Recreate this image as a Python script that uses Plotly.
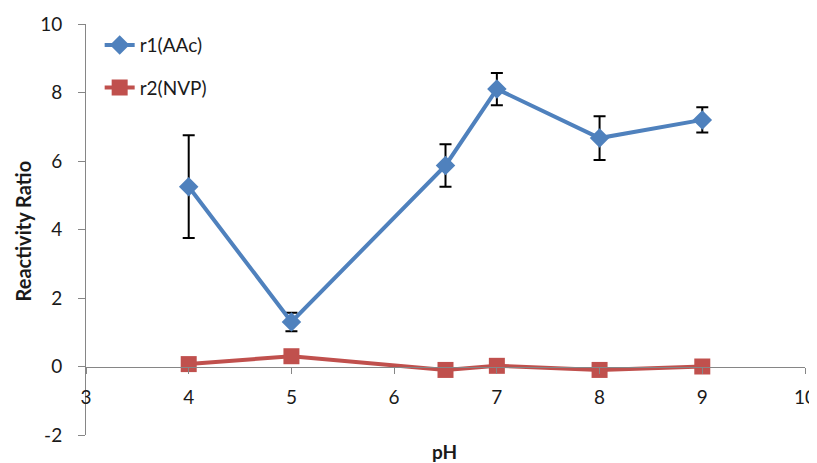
import plotly.graph_objects as go

ph = [4, 5, 6.5, 7, 8, 9]
r1 = [5.25, 1.3, 5.87, 8.1, 6.67, 7.2]
r1_err = [1.5, 0.27, 0.62, 0.47, 0.64, 0.37]
r2 = [0.07, 0.3, -0.1, 0.02, -0.1, 0.0]

x_ticks = [3, 4, 5, 6, 7, 8, 9, 10]
y_ticks = [-2, 0, 2, 4, 6, 8, 10]

FONT = "Lato"
AXIS_COLOR = "#868686"
TXT = "#1a1a1a"

fig = go.Figure()
fig.add_trace(go.Scatter(
    x=ph, y=r1, name="r1(AAc)", mode="lines+markers",
    line=dict(color="#4F81BD", width=4),
    marker=dict(symbol="diamond", size=15, color="#4F81BD"),
    error_y=dict(type="data", array=r1_err, visible=True, color="black", thickness=2, width=6),
    legendgroup="a",
))
fig.add_trace(go.Scatter(
    x=ph, y=r2, name="r2(NVP)", mode="lines+markers",
    line=dict(color="#C0504D", width=4),
    marker=dict(symbol="square", size=16, color="#C0504D"),
    legendgroup="b",
))

# page body has an 8px margin: compensate so the plot lands where the reference has it
fig.update_layout(
    width=809, height=455,
    margin=dict(l=78, r=12, t=16, b=28),
    plot_bgcolor="white", paper_bgcolor="white",
    font=dict(family=FONT, size=19, color=TXT),
    showlegend=True,
    legend=dict(x=0.019, y=0.995, xanchor="left", yanchor="top",
                traceorder="grouped", tracegroupgap=15,
                font=dict(family=FONT, size=19, color=TXT),
                bgcolor="rgba(0,0,0,0)"),
    xaxis=dict(range=[3, 10], tickvals=x_ticks, ticktext=[str(v) for v in x_ticks],
               showgrid=False, zeroline=False, showline=True, linecolor=AXIS_COLOR, linewidth=1,
               ticks="outside", ticklen=6, tickcolor=AXIS_COLOR, automargin=False,
               anchor="free", position=2/12, ticklabelstandoff=8),
    yaxis=dict(range=[-2, 10], tickvals=y_ticks, ticktext=[str(v) for v in y_ticks],
               showgrid=False, zeroline=False, showline=True, linecolor=AXIS_COLOR, linewidth=1,
               ticks="outside", ticklen=7, tickcolor=AXIS_COLOR, ticklabelstandoff=12,
               automargin=False),
    annotations=[
        dict(text="<b>pH</b>", xref="paper", yref="paper", x=0.499, y=-0.039,
             xanchor="center", yanchor="middle", showarrow=False,
             font=dict(family=FONT, size=19, color=TXT)),
        dict(text="<b>Reactivity Ratio</b>", xref="paper", yref="paper", x=-0.088, y=0.497,
             xanchor="center", yanchor="middle", showarrow=False, textangle=-90,
             font=dict(family=FONT, size=20, color=TXT)),
    ],
)

fig.write_html("out.html")
